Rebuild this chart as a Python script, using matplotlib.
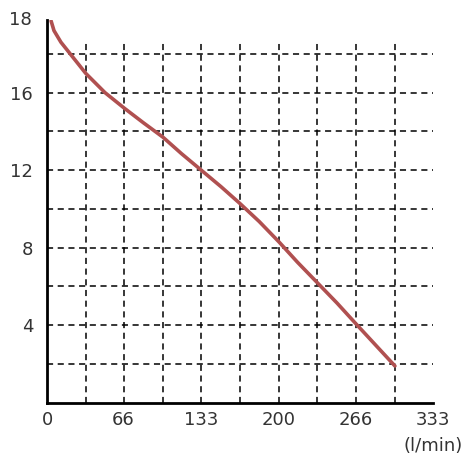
import matplotlib
matplotlib.use("Agg")
import matplotlib.pyplot as plt
import numpy as np

flow = [3.5, 6, 12, 20, 28, 33.3, 50, 66.6, 83, 100, 116, 133, 150, 166, 183, 200, 216, 233, 250, 266, 283, 300]
head = [19.7, 19.2, 18.6, 18.0, 17.4, 17.0, 16.0, 15.2, 14.45, 13.7, 12.85, 12.0, 11.15, 10.3, 9.35, 8.3, 7.25, 6.2, 5.15, 4.1, 3.0, 1.9]
xticks = [0, 66, 133, 200, 266, 333]
yticks = [4, 8, 12, 16]

fig = plt.figure(figsize=(4.75, 4.75), dpi=100)
ax = fig.add_axes([0.099, 0.152, 0.813, 0.806])
ax.set_xlim(0, 333)
ax.set_ylim(0, 19.75)

vx = np.arange(1, 10) * 333 / 10
ax.vlines(vx, 0, 18.6, colors="black", linestyles=(0, (4, 3)), lw=1.1)
ax.hlines(np.arange(2, 19, 2), 0, 333, colors="black", linestyles=(0, (4, 3)), lw=1.1)

ax.plot(flow, head, color="#b05050", lw=2.6, solid_capstyle="round", zorder=3)

for s in ["top", "right"]:
    ax.spines[s].set_visible(False)
for s in ["left", "bottom"]:
    ax.spines[s].set_linewidth(2)

ax.set_xticks(xticks)
ax.set_xticklabels([str(t) for t in xticks])
ax.set_yticks(yticks)
ax.set_yticklabels([str(t) for t in yticks])
ax.tick_params(axis="x", length=0, labelsize=13, colors="#333333", pad=6)
ax.tick_params(axis="y", length=0, labelsize=13, colors="#333333", pad=10)
ax.text(-0.04, 19.75, "18", ha="right", va="center", fontsize=13, color="#333333",
        transform=ax.get_yaxis_transform())
ax.text(333, -1.75, "(l/min)", ha="center", va="top", fontsize=13, color="#333333")

fig.savefig("out.png", dpi=100)
